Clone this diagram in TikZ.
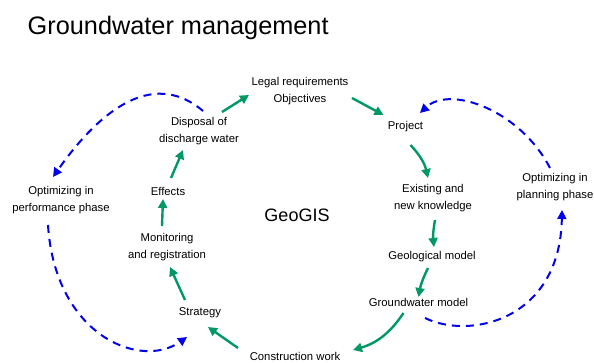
\documentclass[tikz,border=0pt]{standalone}
\usepackage{fontspec}
\setmainfont{Liberation Sans}
\usetikzlibrary{arrows.meta,calc}
\definecolor{garr}{HTML}{009966}
\definecolor{barr}{HTML}{0000EE}
\begin{document}
\begin{tikzpicture}[x=1pt,y=-1pt,
  lbl/.style={font=\fontsize{11.3}{17}\selectfont, align=center, inner sep=0pt},
  garrow/.style={draw=garr, line width=2.4pt, -{Triangle[length=9pt,width=9pt]}},
  barrow/.style={draw=barr, line width=2pt, dash pattern=on 8pt off 6pt, -{Triangle[length=9pt,width=9pt]}}]
\useasboundingbox (0,0) rectangle (594,363);
\fill[white] (0,0) rectangle (594,363);

\node[anchor=west, inner sep=0pt, font=\fontsize{25.3}{30}\selectfont] (title) at (27.5,28) {Groundwater management};
\node[lbl, font=\fontsize{18}{22}\selectfont] (geogis) at (297,215) {GeoGIS};

\node[lbl] (legal) at (300,91.5) {Legal requirements\\Objectives};
\node[lbl] (proj) at (405.5,127) {Project};
\node[lbl] (exist) at (433,198.5) {Existing and\\new knowledge};
\node[lbl] (geol) at (432,256.5) {Geological model};
\node[lbl] (gwm) at (418.5,302) {Groundwater model};
\node[lbl] (constr) at (295,356) {Construction work};
\node[lbl] (strat) at (200,313) {Strategy};
\node[lbl] (monit) at (167,247.5) {Monitoring\\and registration};
\node[lbl] (effects) at (168,191) {Effects};
\node[lbl] (disp) at (199,131.5) {Disposal of\\discharge water};
\node[lbl] (optperf) at (61,200) {Optimizing in\\performance phase};
\node[lbl] (optplan) at (555,187) {Optimizing in\\planning phase};

% green cycle
\draw[garrow] ([shift={(23,-19.5)}]disp.center) -- ([shift={(-51,3.5)}]legal.center);
\draw[garrow] ([shift={(52,6.5)}]legal.center) -- ([shift={(-22,-12)}]proj.center);
\draw[garrow] ([shift={(5,18)}]proj.center) to[bend left=15] ([shift={(-5,-20.5)}]exist.center);
\draw[garrow] ([shift={(2,21.5)}]exist.center) to[bend right=8] ([shift={(2,-9.5)}]geol.center);
\draw[garrow] ([shift={(-4,11.5)}]geol.center) to[bend right=8] ([shift={(0,-5)}]gwm.center);
\draw[garrow] ([shift={(-15,11)}]gwm.center) to[bend left=20] ([shift={(58,-6)}]constr.center);
\draw[garrow] ([shift={(-57,-8)}]constr.center) -- ([shift={(8,14)}]strat.center);
\draw[garrow] ([shift={(-15,-13)}]strat.center) -- ([shift={(3,19.5)}]monit.center);
\draw[garrow] ([shift={(-5,-21.5)}]monit.center) -- ([shift={(-5,8)}]effects.center);
\draw[garrow] ([shift={(3,-13)}]effects.center) -- ([shift={(-16,18.5)}]disp.center);

% blue optimizing loops
\draw[barrow] ([shift={(4,-20.5)}]disp.center) .. controls (150,66) and (95,117) .. ([shift={(-8,-23)}]optperf.center);
\draw[barrow] ([shift={(-13,25)}]optperf.center) .. controls (55,335) and (140,370) .. ([shift={(-13,24)}]strat.center);
\draw[barrow] ([shift={(6.5,16)}]gwm.center) .. controls (470,340) and (560,320) .. ([shift={(7,23)}]optplan.center);
\draw[barrow] ([shift={(-5,-19)}]optplan.center) .. controls (520,110) and (450,85) .. ([shift={(14.5,-14)}]proj.center);
\end{tikzpicture}
\end{document}
